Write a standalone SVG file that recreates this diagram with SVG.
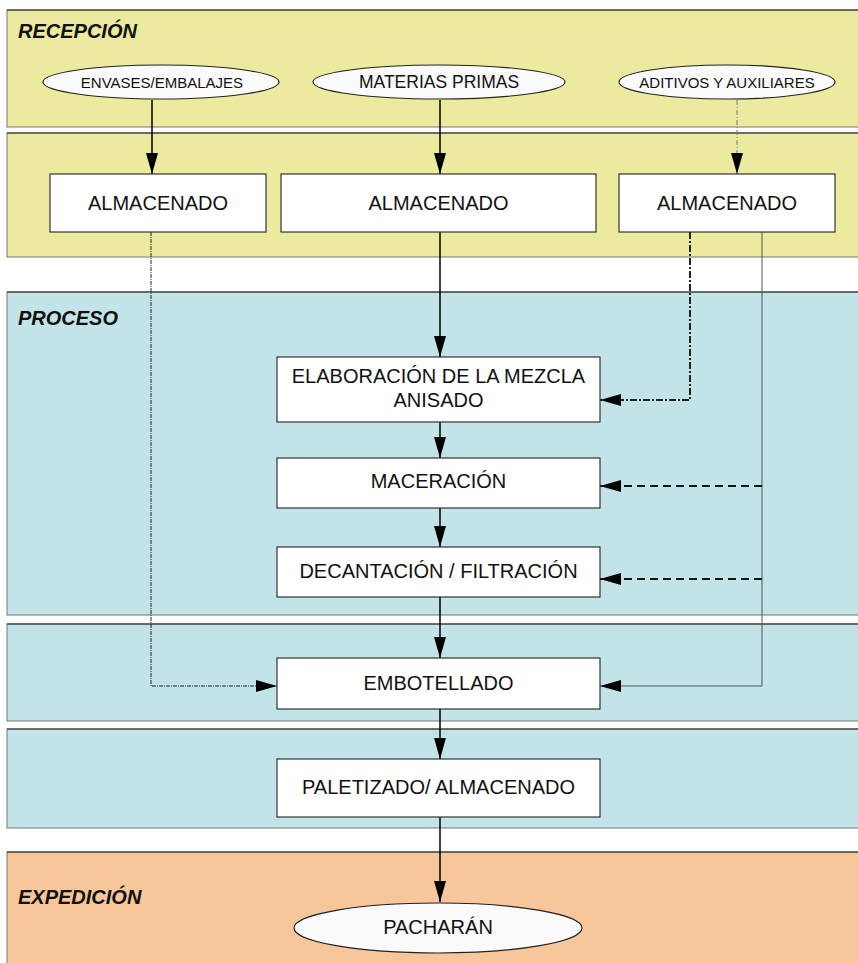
<svg xmlns="http://www.w3.org/2000/svg" width="858" height="963" viewBox="0 0 858 963">
<defs>
<style>
.band{stroke:#777;stroke-width:1}
.top{stroke:#222;stroke-width:1.2}
.box{fill:#fff;stroke:#333;stroke-width:1.2}
.ell{fill:#fafafa;stroke:#222;stroke-width:1.2}
.t{font-family:"Liberation Sans",Arial,sans-serif;font-size:20px;fill:#111;text-anchor:middle}
.ts{font-size:15px}
.title{font-family:"Liberation Sans",Arial,sans-serif;font-size:20px;font-weight:bold;font-style:italic;fill:#111}
.solid{fill:none;stroke:#000;stroke-width:1.5}
.thin{fill:none;stroke:#555;stroke-width:1}
.dot{fill:none;stroke:#222;stroke-width:1;stroke-dasharray:4 1 1 1}
.dashdot{fill:none;stroke:#222;stroke-width:2;stroke-dasharray:7 2 2 2}
.dashdotthin{fill:none;stroke:#777;stroke-width:1;stroke-dasharray:5 2 1 2}
.dash{fill:none;stroke:#111;stroke-width:2;stroke-dasharray:8 5}
</style>
<marker id="ah" markerUnits="userSpaceOnUse" markerWidth="21" markerHeight="14" refX="21" refY="7" orient="auto">
<path d="M0,1 L21,7 L0,13 z" fill="#000"/>
</marker>
</defs>
<g id="bands">
<rect class="band" x="7" y="10" width="860" height="117" fill="#ECEA9F"/>
<line class="top" x1="7" y1="10" x2="858" y2="10"/>
<rect class="band" x="7" y="133" width="860" height="124" fill="#ECEA9F"/>
<line class="top" x1="7" y1="133" x2="858" y2="133"/>
<rect class="band" x="7" y="292" width="860" height="323" fill="#C2E4E9"/>
<line class="top" x1="7" y1="292" x2="858" y2="292"/>
<rect class="band" x="7" y="624" width="860" height="97" fill="#C2E4E9"/>
<line class="top" x1="7" y1="624" x2="858" y2="624"/>
<rect class="band" x="7" y="729" width="860" height="99" fill="#C2E4E9"/>
<line class="top" x1="7" y1="729" x2="858" y2="729"/>
<rect class="band" x="7" y="852" width="860" height="120" fill="#F8C69B"/>
<line class="top" x1="7" y1="852" x2="858" y2="852"/>
<text class="title" x="18" y="38">RECEPCIÓN</text>
<text class="title" x="18" y="325">PROCESO</text>
<text class="title" x="18" y="904">EXPEDICIÓN</text>
</g>
<g id="connectors">
<line class="solid" x1="152" y1="100" x2="152" y2="174" marker-end="url(#ah)"/>
<line class="solid" x1="440" y1="100" x2="440" y2="174" marker-end="url(#ah)"/>
<line class="dashdotthin" x1="737" y1="100" x2="737" y2="174" marker-end="url(#ah)"/>
<line class="solid" x1="440" y1="232" x2="440" y2="357" marker-end="url(#ah)"/>
<line class="solid" x1="440" y1="422" x2="440" y2="458" marker-end="url(#ah)"/>
<line class="solid" x1="440" y1="508" x2="440" y2="547" marker-end="url(#ah)"/>
<line class="solid" x1="440" y1="597" x2="440" y2="658" marker-end="url(#ah)"/>
<line class="solid" x1="440" y1="709" x2="440" y2="759" marker-end="url(#ah)"/>
<line class="solid" x1="440" y1="817" x2="440" y2="902" marker-end="url(#ah)"/>
<polyline class="dot" points="151,232 151,686 277,686" marker-end="url(#ah)"/>
<polyline class="dashdot" points="690,232 690,400 600,400" marker-end="url(#ah)"/>
<polyline class="thin" points="762,232 762,686 600,686" marker-end="url(#ah)"/>
<line class="dash" x1="762" y1="486" x2="600" y2="486" marker-end="url(#ah)"/>
<line class="dash" x1="762" y1="579" x2="600" y2="579" marker-end="url(#ah)"/>
</g>
<g id="envases"><ellipse class="ell" cx="161" cy="82" rx="118" ry="17"/><text class="t ts" x="162" y="88">ENVASES/EMBALAJES</text></g>
<g id="materias"><ellipse class="ell" cx="439" cy="82" rx="126" ry="17"/><text class="t" style="font-size:17.5px" x="439" y="88">MATERIAS PRIMAS</text></g>
<g id="aditivos"><ellipse class="ell" cx="727" cy="82" rx="108" ry="17"/><text class="t ts" x="727" y="88">ADITIVOS Y AUXILIARES</text></g>
<g id="almacenado1"><rect class="box" x="50" y="174" width="216" height="58"/><text class="t" x="158" y="210">ALMACENADO</text></g>
<g id="almacenado2"><rect class="box" x="281" y="174" width="315" height="58"/><text class="t" x="438.5" y="210">ALMACENADO</text></g>
<g id="almacenado3"><rect class="box" x="619" y="174" width="216" height="58"/><text class="t" x="727" y="210">ALMACENADO</text></g>
<g id="elaboracion"><rect class="box" x="277" y="357" width="323" height="65"/><text class="t" x="438.5" y="383">ELABORACIÓN DE LA MEZCLA</text><text class="t" x="438.5" y="407">ANISADO</text></g>
<g id="maceracion"><rect class="box" x="277" y="458" width="323" height="50"/><text class="t" x="438.5" y="488">MACERACIÓN</text></g>
<g id="decantacion"><rect class="box" x="277" y="547" width="323" height="50"/><text class="t" x="438.5" y="578">DECANTACIÓN / FILTRACIÓN</text></g>
<g id="embotellado"><rect class="box" x="277" y="658" width="323" height="51"/><text class="t" x="438.5" y="690">EMBOTELLADO</text></g>
<g id="paletizado"><rect class="box" x="277" y="759" width="323" height="58"/><text class="t" x="438.5" y="794">PALETIZADO/ ALMACENADO</text></g>
<g id="pacharan"><ellipse class="ell" cx="438" cy="928" rx="144" ry="25"/><text class="t" x="438" y="934">PACHARÁN</text></g>
</svg>
